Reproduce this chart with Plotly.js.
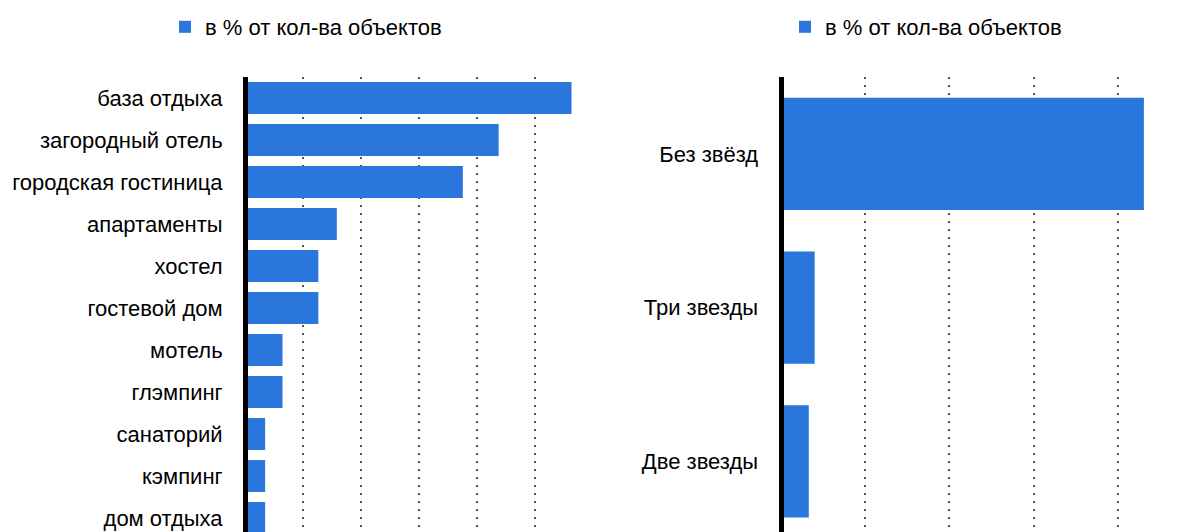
<!DOCTYPE html>
<html>
<head>
<meta charset="utf-8">
<script src="https://cdn.plot.ly/plotly-3.0.1.min.js"></script>
<style>
  html, body { margin: 0; padding: 0; background: #fff; }
  #chart { width: 1195px; height: 532px; }
</style>
</head>
<body>
<div id="chart"></div>
<script>
// Left chart: type of accommodation (% of objects)
const typeCategories = ["база отдыха", "загородный отель", "городская гостиница", "апартаменты", "хостел", "гостевой дом", "мотель", "глэмпинг", "санаторий", "кэмпинг", "дом отдыха"];
const typeValues = [28.2, 21.9, 18.8, 7.9, 6.3, 6.3, 3.2, 3.2, 1.7, 1.7, 1.7];

// Right chart: star rating (% of objects)
const starCategories = ["Без звёзд", "Три звезды", "Две звезды"];
const starValues = [86.2, 8.0, 6.6];

const seriesName = "в % от кол-ва объектов";
const barColor = "#2a76dd";
const FONT = "Liberation Sans, Arial, sans-serif";

const traces = [
  {
    type: "bar", orientation: "h",
    x: typeValues, y: typeCategories,
    name: seriesName, marker: { color: barColor },
    width: 0.76, xaxis: "x", yaxis: "y", legend: "legend",
    hoverinfo: "skip"
  },
  {
    type: "bar", orientation: "h",
    x: starValues, y: starCategories,
    name: seriesName, marker: { color: barColor },
    width: 0.73, xaxis: "x2", yaxis: "y2", legend: "legend2",
    hoverinfo: "skip"
  }
];

const gridStyle = {
  showgrid: true, gridcolor: "#555", gridwidth: 2, griddash: "2px,6px",
  zeroline: false, showline: false, showticklabels: false, ticks: ""
};

const layout = {
  width: 1195, height: 532,
  margin: { l: 0, r: 0, t: 77, b: 0 },
  paper_bgcolor: "#fff", plot_bgcolor: "#fff",
  font: { family: FONT, size: 22, color: "#000" },
  showlegend: true,
  xaxis: Object.assign({}, gridStyle, {
    domain: [248 / 1195, 592.3 / 1195],
    range: [0.216, 30], tickvals: [5, 10, 15, 20, 25, 30], anchor: "y"
  }),
  yaxis: {
    type: "category", range: [10.333, -0.5], anchor: "x",
    showline: true, linecolor: "#000", linewidth: 5,
    showgrid: false, zeroline: false, ticks: "", ticklabelstandoff: 16,
    tickfont: { family: FONT, size: 22, color: "#000" }
  },
  xaxis2: Object.assign({}, gridStyle, {
    domain: [783.5 / 1195, 1159.9 / 1195],
    range: [0.594, 90], tickvals: [20, 40, 60, 80], anchor: "y2"
  }),
  yaxis2: {
    type: "category", range: [2.46, -0.5], anchor: "x2",
    showline: true, linecolor: "#000", linewidth: 5,
    showgrid: false, zeroline: false, ticks: "", ticklabelstandoff: 16,
    tickfont: { family: FONT, size: 22, color: "#000" }
  },
  legend: {
    xref: "container", yref: "container",
    x: 165 / 1195, y: 1 - 27 / 532, xanchor: "left", yanchor: "middle",
    orientation: "h", bgcolor: "rgba(0,0,0,0)",
    font: { family: FONT, size: 22, color: "#000" }
  },
  legend2: {
    xref: "container", yref: "container",
    x: 785 / 1195, y: 1 - 27 / 532, xanchor: "left", yanchor: "middle",
    orientation: "h", bgcolor: "rgba(0,0,0,0)",
    font: { family: FONT, size: 22, color: "#000" }
  }
};

Plotly.newPlot("chart", traces, layout, { staticPlot: true, displayModeBar: false });
</script>
</body>
</html>
